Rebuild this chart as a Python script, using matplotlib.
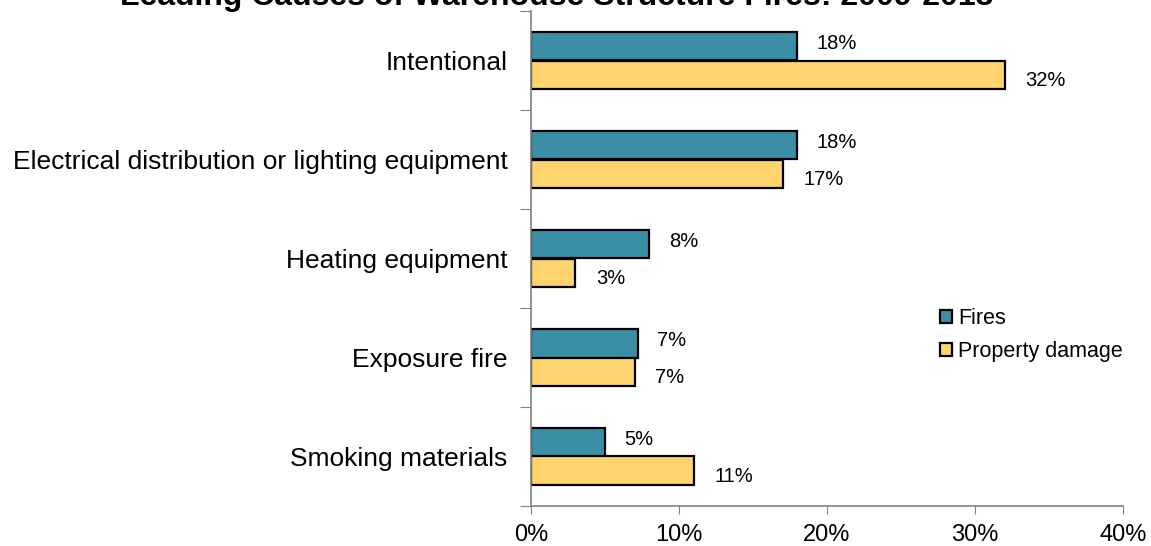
import numpy as np
import matplotlib
matplotlib.use("Agg")
import matplotlib.pyplot as plt
from matplotlib.patches import Patch

# data
causes = ["Intentional",
          "Electrical distribution or lighting equipment",
          "Heating equipment",
          "Exposure fire",
          "Smoking materials"]
fires = [18, 18, 8, 7.2, 5]
property_damage = [32, 17, 3, 7, 11]
fires_labels = ["18%", "18%", "8%", "7%", "5%"]
damage_labels = ["32%", "17%", "3%", "7%", "11%"]
xticks = [0, 10, 20, 30, 40]

plt.rcParams['font.family'] = ['Liberation Sans', 'DejaVu Sans']

W, H = 1151, 546
fig = plt.figure(figsize=(W / 100, H / 100), dpi=100)
# axes box in pixels: left 531, right 1123, top 11, bottom 506
ax = fig.add_axes([531 / W, 1 - 506 / H, (1123 - 531) / W, (506 - 11) / H])

teal = "#3A8FA6"
gold = "#FED46E"
h = 0.29
y = np.arange(len(causes))

b1 = ax.barh(y - h / 2, fires, height=h, color=teal, edgecolor="black", linewidth=1.6)
b2 = ax.barh(y + h / 2, property_damage, height=h, color=gold, edgecolor="black", linewidth=1.6)

for i in range(len(causes)):
    ax.annotate(fires_labels[i], (fires[i], y[i] - h / 2), xytext=(14, 2),
                textcoords="offset points", ha="left", va="center", fontsize=14.5)
    ax.annotate(damage_labels[i], (property_damage[i], y[i] + h / 2), xytext=(15, -4),
                textcoords="offset points", ha="left", va="center", fontsize=14.5)

ax.set_xlim(0, 40)
ax.set_ylim(len(causes) - 0.5, -0.5)
ax.set_xticks(xticks)
ax.set_xticklabels([f"{t}%" for t in xticks], fontsize=17)
ax.tick_params(axis="x", direction="out", length=6, color="#808080", pad=7)

ax.set_yticks(np.arange(len(causes) + 1) - 0.5)
ax.set_yticklabels([])
ax.set_yticks(y, minor=True)
ax.set_yticklabels(causes, minor=True, fontsize=19)
ax.tick_params(axis="y", which="major", direction="out", length=8, color="#808080")
ax.tick_params(axis="y", which="minor", length=0, pad=17)

for s in ["top", "right"]:
    ax.spines[s].set_visible(False)
for s in ["left", "bottom"]:
    ax.spines[s].set_color("#808080")
    ax.spines[s].set_linewidth(1.2)

handles = [Patch(facecolor=teal, edgecolor="black", linewidth=1.6),
           Patch(facecolor=gold, edgecolor="black", linewidth=1.6)]
fig.legend(handles, ["Fires", "Property damage"], loc="upper left",
           bbox_to_anchor=(940 / W, 1 - 308 / H), frameon=False, fontsize=15.5,
           handlelength=0.55, handleheight=0.55, handletextpad=0.3, labelspacing=0.55,
           borderaxespad=0, borderpad=0)

fig.text(557 / W, 1 - 5 / H, "Leading Causes of Warehouse Structure Fires: 2009-2013",
         ha="center", va="baseline", fontsize=23, fontweight="bold")

fig.savefig("out.png", dpi=100)
